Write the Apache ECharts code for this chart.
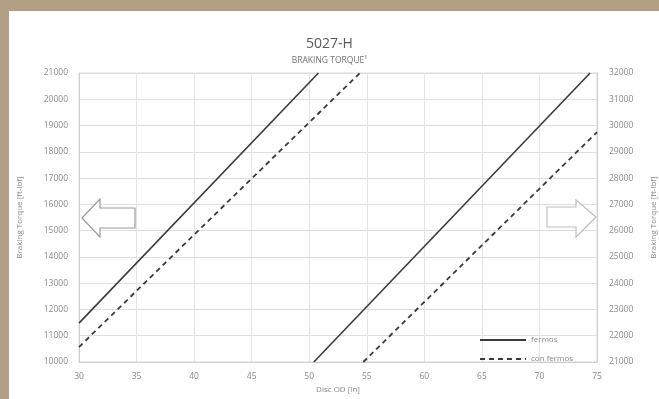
<!DOCTYPE html>
<html>
<head>
<meta charset="utf-8">
<script src="https://cdn.jsdelivr.net/npm/echarts@6/dist/echarts.min.js"></script>
<style>html,body{margin:0;padding:0;background:#fff;}#c{width:659px;height:399px;}</style>
</head>
<body>
<div id="c"></div>
<script>
// ---- data ----
const xTicks = [30, 35, 40, 45, 50, 55, 60, 65, 70, 75];
const leftTicks = [10000, 11000, 12000, 13000, 14000, 15000, 16000, 17000, 18000, 19000, 20000, 21000];
const rightTicks = [21000, 22000, 23000, 24000, 25000, 26000, 27000, 28000, 29000, 30000, 31000, 32000];
const seriesNames = ['fermos', 'con fermos'];
// left-axis part (Disc OD [in], torque ft-lbf)
const leftSolid = [[30, 11480], [50.8, 21000]];
const leftDashed = [[30, 10570], [54.4, 21000]];
// right-axis part
const rightSolid = [[50.4, 21000], [74.4, 32000]];
const rightDashed = [[54.7, 21000], [75, 29750]];

const chart = echarts.init(document.getElementById('c'), null, {renderer: 'canvas'});
const plain = v => String(v);
const axisText = {color: '#8a8a8a', fontSize: 8.5, fontFamily: 'Open Sans', formatter: plain};
const lineCol = '#3a3a3a';
const solidStyle = {color: lineCol, width: 1.6, type: 'solid'};
const dashStyle = {color: lineCol, width: 1.8, type: [5, 4]};

chart.setOption({
  backgroundColor: '#ffffff',
  animation: false,
  title: {
    text: '5027-H',
    subtext: 'BRAKING TORQUE¹',
    left: 'center',
    top: 32,
    itemGap: 5,
    textStyle: {color: '#5a5a5a', fontSize: 14, fontWeight: 'normal', fontFamily: 'Open Sans'},
    subtextStyle: {color: '#707070', fontSize: 8.5, fontFamily: 'Open Sans'}
  },
  legend: {
    data: seriesNames,
    orient: 'vertical',
    left: 474,
    top: 331,
    itemWidth: 46,
    itemHeight: 8,
    itemGap: 11,
    itemStyle: {opacity: 0},
    textStyle: {color: '#8a8a8a', fontSize: 8, fontFamily: 'Open Sans'}
  },
  grid: {left: 79, right: 62, top: 73, bottom: 37, outerBoundsMode: 'none', containLabel: false,
    show: true, borderColor: '#d8d8d8', borderWidth: 1, backgroundColor: 'transparent'},
  xAxis: {
    type: 'value', min: xTicks[0], max: xTicks[xTicks.length - 1], interval: 5,
    name: 'Disc OD [in]', nameLocation: 'middle', nameGap: 24,
    nameTextStyle: {color: '#8a8a8a', fontSize: 8, fontFamily: 'Open Sans'},
    axisLine: {show: true, lineStyle: {color: '#d0d0d0'}},
    axisTick: {show: false},
    axisLabel: Object.assign({margin: 10}, axisText),
    splitLine: {show: true, lineStyle: {color: '#e4e4e4', width: 1}}
  },
  yAxis: [
    {
      type: 'value', position: 'left', min: leftTicks[0], max: leftTicks[leftTicks.length - 1], interval: 1000,
      name: 'Braking Torque [ft-lbf]', nameLocation: 'middle', nameGap: 55,
      nameTextStyle: {color: '#8a8a8a', fontSize: 8, fontFamily: 'Open Sans'},
      axisLine: {show: true, lineStyle: {color: '#d0d0d0'}},
      axisTick: {show: false},
      axisLabel: Object.assign({margin: 11}, axisText),
      splitLine: {show: true, lineStyle: {color: '#dedede', width: 1}}
    },
    {
      type: 'value', position: 'right', min: rightTicks[0], max: rightTicks[rightTicks.length - 1], interval: 1000,
      name: 'Braking Torque [ft-lbf]', nameLocation: 'middle', nameGap: 53,
      nameTextStyle: {color: '#8a8a8a', fontSize: 8, fontFamily: 'Open Sans'},
      axisLine: {show: true, lineStyle: {color: '#d0d0d0'}},
      axisTick: {show: false},
      axisLabel: Object.assign({margin: 12}, axisText),
      splitLine: {show: false}
    }
  ],
  graphic: [
    {type: 'rect', shape: {x: 0, y: 0, width: 659, height: 11}, style: {fill: '#b3a084'}, silent: true, z: 100},
    {type: 'rect', shape: {x: 0, y: 0, width: 9, height: 399}, style: {fill: '#b3a084'}, silent: true, z: 100},
    {type: 'polygon', shape: {points: [[82, 218], [100, 199], [100, 208], [135, 208], [135, 228], [100, 228], [100, 237]]},
      style: {fill: '#ffffff', stroke: '#9a9a9a', lineWidth: 1.2}, silent: true, z: 50},
    {type: 'polygon', shape: {points: [[596, 217], [576, 200], [576, 207], [547, 207], [547, 227], [576, 227], [576, 237]]},
      style: {fill: '#ffffff', stroke: '#bdbdbd', lineWidth: 1.2}, silent: true, z: 50}
  ],
  series: [
    {name: seriesNames[0], type: 'line', yAxisIndex: 0, data: leftSolid, symbol: 'none', lineStyle: solidStyle, itemStyle: {color: lineCol}, clip: true},
    {name: seriesNames[1], type: 'line', yAxisIndex: 0, data: leftDashed, symbol: 'none', lineStyle: dashStyle, itemStyle: {color: lineCol}, clip: true},
    {name: seriesNames[0], type: 'line', yAxisIndex: 1, data: rightSolid, symbol: 'none', lineStyle: solidStyle, itemStyle: {color: lineCol}, clip: true},
    {name: seriesNames[1], type: 'line', yAxisIndex: 1, data: rightDashed, symbol: 'none', lineStyle: dashStyle, itemStyle: {color: lineCol}, clip: true}
  ]
});
</script>
</body>
</html>
